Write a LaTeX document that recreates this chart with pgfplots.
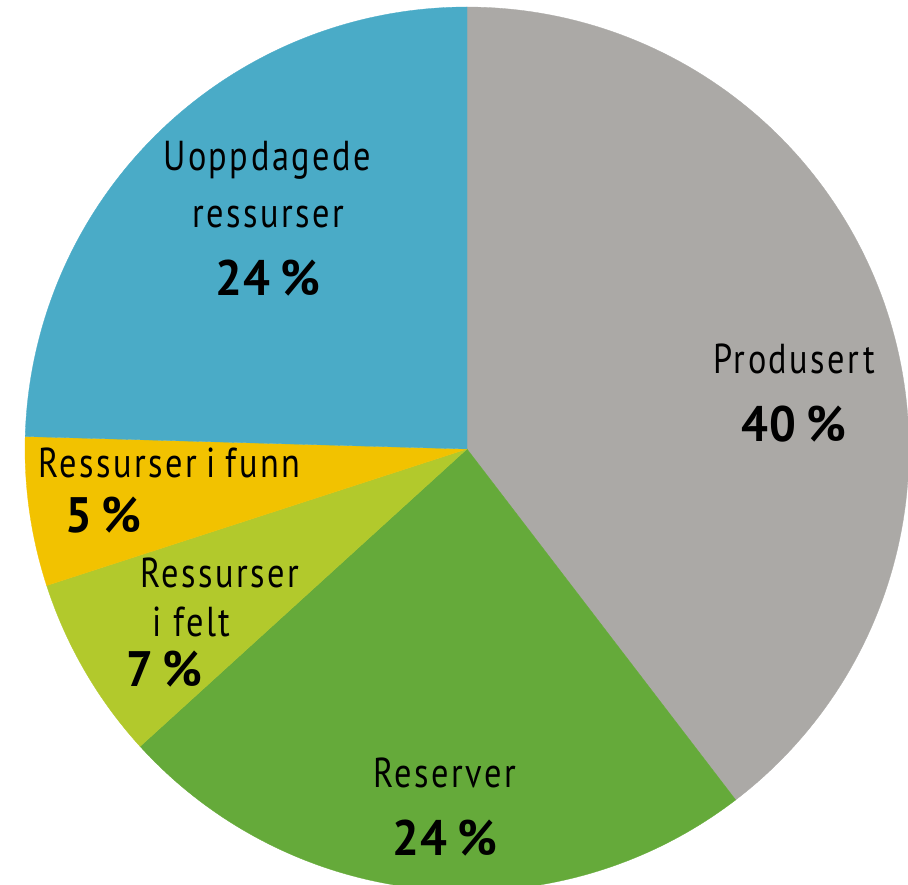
\documentclass[border=0pt]{standalone}
\usepackage{pgfplots}
\pgfplotsset{compat=1.18}
\usepackage{fontspec}
\setmainfont[FakeStretch=0.82]{PT Sans}
\newfontfamily\nmfont[FakeStretch=0.82, LetterSpace=6]{PT Sans}
\newfontfamily\pcfont[FakeStretch=0.95, LetterSpace=2]{PT Sans}
\definecolor{cgray}{HTML}{ABA9A6}
\definecolor{cgreen}{HTML}{65AA3A}
\definecolor{cfelt}{HTML}{B2C92C}
\definecolor{cfunn}{HTML}{F2C200}
\definecolor{cblue}{HTML}{4AABC7}
% shares (per cent), clockwise from 12 o'clock
\def\sProd{39.6}
\def\sRes{23.65}
\def\sFelt{6.75}
\def\sFunn{5.45}
\def\sUopp{24.55}
\pgfmathsetmacro{\aA}{90}
\pgfmathsetmacro{\aB}{\aA-3.6*\sProd}
\pgfmathsetmacro{\aC}{\aB-3.6*\sRes}
\pgfmathsetmacro{\aD}{\aC-3.6*\sFelt}
\pgfmathsetmacro{\aE}{\aD-3.6*\sFunn}
\pgfmathsetmacro{\aF}{\aE-3.6*\sUopp}
\newcommand{\nm}{\nmfont\fontsize{42}{48}\selectfont}
\newcommand{\pc}{\pcfont\fontsize{50}{56}\selectfont\bfseries}
\newcommand{\pct}[1]{#1\kern0.2em\%}
\begin{document}
\begin{tikzpicture}
\begin{axis}[hide axis, scale only axis, width=908bp, height=885bp,
  xmin=0, xmax=908, ymin=-885, ymax=0, clip=true]
\def\cx{467}\def\cy{-449}\def\rr{442}
\addplot[fill=cgray, draw=cgray, line width=0.3pt, domain=\aB:\aA, samples=120] ({\cx+\rr*cos(x)}, {\cy+\rr*sin(x)}) -- (axis cs:467,-449) -- cycle;
\addplot[fill=cgreen, draw=cgreen, line width=0.3pt, domain=\aC:\aB, samples=90] ({\cx+\rr*cos(x)}, {\cy+\rr*sin(x)}) -- (axis cs:467,-449) -- cycle;
\addplot[fill=cfelt, draw=cfelt, line width=0.3pt, domain=\aD:\aC, samples=40] ({\cx+\rr*cos(x)}, {\cy+\rr*sin(x)}) -- (axis cs:467,-449) -- cycle;
\addplot[fill=cfunn, draw=cfunn, line width=0.3pt, domain=\aE:\aD, samples=40] ({\cx+\rr*cos(x)}, {\cy+\rr*sin(x)}) -- (axis cs:467,-449) -- cycle;
\addplot[fill=cblue, draw=cblue, line width=0.3pt, domain=\aF:\aE, samples=90] ({\cx+\rr*cos(x)}, {\cy+\rr*sin(x)}) -- (axis cs:467,-449) -- cycle;
% labels
\node[anchor=base, inner sep=0pt] at (axis cs:267,-171) {\nm Uoppdagede};
\node[anchor=base, inner sep=0pt] at (axis cs:268,-228) {\nm ressurser};
\node[anchor=base, inner sep=0pt] at (axis cs:268,-296) {\pc \pct{24}};
\node[anchor=base, inner sep=0pt] at (axis cs:794,-374) {\nm Produsert};
\node[anchor=base, inner sep=0pt] at (axis cs:794,-442) {\pc \pct{40}};
\node[anchor=base west, inner sep=0pt] at (axis cs:38,-478) {\nm Ressurser\kern-0.05em\ i\kern-0.04em\ funn};
\node[anchor=base west, inner sep=0pt] at (axis cs:65,-533) {\pc \pct{5}};
\node[anchor=base west, inner sep=0pt] at (axis cs:140,-588) {\nm Ressurser};
\node[anchor=base west, inner sep=0pt] at (axis cs:152,-637) {\nm i felt};
\node[anchor=base west, inner sep=0pt] at (axis cs:126,-687) {\pc \pct{7}};
\node[anchor=base, inner sep=0pt] at (axis cs:445,-788) {\nm Reserver};
\node[anchor=base, inner sep=0pt] at (axis cs:445,-855) {\pc \pct{24}};
\end{axis}
\pgfresetboundingbox
\path[use as bounding box] (current axis.south west) rectangle (current axis.north east);
\end{tikzpicture}
\end{document}
